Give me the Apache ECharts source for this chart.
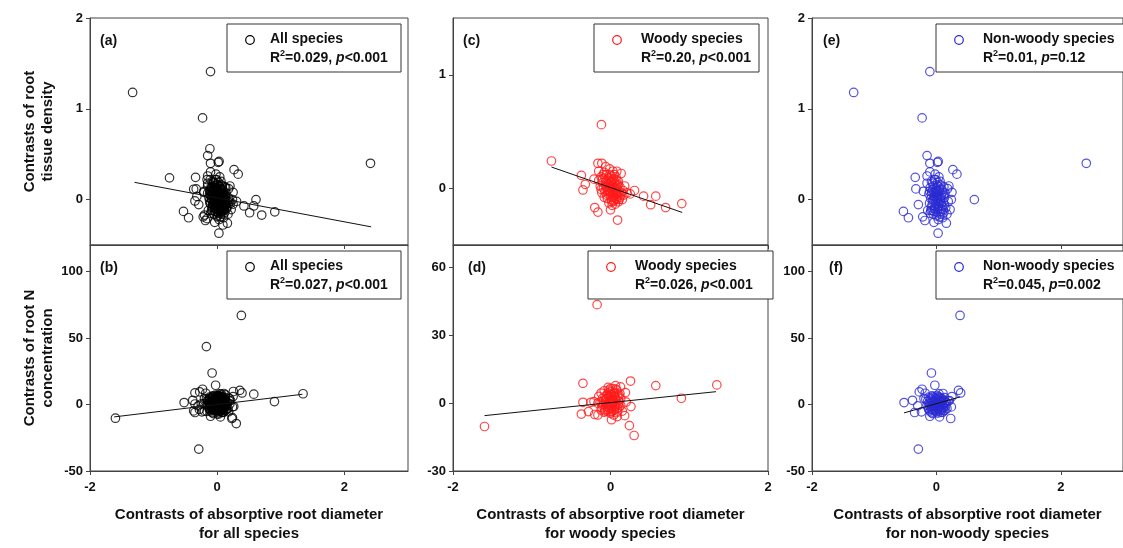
<!DOCTYPE html>
<html>
<head>
<meta charset="utf-8">
<script src="https://cdn.jsdelivr.net/npm/echarts@6.0.0/dist/echarts.min.js"></script>
<style>
html, body { margin: 0; background: #fff; }
#chart { width: 1123px; height: 548px; }
</style>
</head>
<body>
<div id="chart"></div>
<script>
// root tissue density contrasts vs. diameter contrasts
const woodyRtd = [
  [-0.75, 0.24], [-0.115, 0.56], [-0.37, 0.114], [-0.32, 0.035], [-0.35, -0.015],
  [-0.21, 0.08], [-0.16, 0.22], [-0.11, 0.22], [0.135, 0.13], [0.18, 0.02],
  [0.305, -0.02], [0.42, -0.07], [0.575, -0.07], [0.51, -0.145], [0.70, -0.17],
  [0.905, -0.135], [-0.2, -0.17], [-0.16, -0.21], [0.0, -0.19], [0.09, -0.28],
  [0.04, -0.11], [0.21, -0.04], [0.25, -0.05], [-0.15, 0.15],
  [-0.12, 0.10], [-0.08, 0.14], [-0.05, 0.12], [-0.02, 0.09], [0.01, 0.11],
  [0.04, 0.08], [0.07, 0.10], [0.10, 0.06], [-0.10, 0.05], [-0.06, 0.06],
  [-0.03, 0.04], [0.00, 0.05], [0.03, 0.03], [0.06, 0.04], [0.09, 0.02],
  [0.12, 0.01], [-0.13, 0.02], [-0.09, 0.00], [-0.05, 0.01], [-0.01, 0.00],
  [0.02, -0.01], [0.05, 0.00], [0.08, -0.02], [0.11, -0.03], [0.14, -0.04],
  [-0.11, -0.04], [-0.07, -0.03], [-0.03, -0.05], [0.00, -0.04], [0.03, -0.06],
  [0.06, -0.05], [0.09, -0.07], [0.12, -0.08], [-0.08, -0.08], [-0.04, -0.09],
  [0.01, -0.10], [0.04, -0.11], [0.07, -0.09], [0.10, -0.12], [-0.02, -0.13],
  [0.02, -0.15], [0.06, -0.14], [0.15, -0.10], [0.17, -0.06], [-0.15, 0.07],
  [-0.01, 0.17], [0.03, 0.15], [0.08, 0.15], [-0.06, 0.19], [0.05, -0.02],
  [0.00, 0.02], [-0.04, -0.01], [0.02, 0.07],
  [-0.06, 0.02], [-0.02, 0.03], [0.02, 0.02], [0.06, 0.01], [0.09, -0.04],
  [-0.04, -0.03], [0.00, -0.07], [0.04, -0.08], [0.08, -0.10], [-0.07, 0.09],
  [-0.03, 0.07], [0.01, 0.06], [0.05, 0.06], [0.10, 0.03], [0.13, -0.06],
  [-0.10, 0.08], [0.07, -0.06], [0.03, -0.03], [-0.01, -0.02], [0.11, -0.10],
  [-0.12, -0.01], [0.16, -0.02], [-0.09, 0.12], [0.05, 0.12], [0.02, -0.12],
  [-0.05, -0.06], [0.08, 0.07], [-0.01, 0.12]
];
const herbRtd = [
  [-1.33, 1.18], [-0.105, 1.41], [-0.23, 0.90], [-0.15, 0.485], [-0.105, 0.40],
  [0.016, 0.41], [0.03, 0.42], [-0.105, 0.305], [-0.15, 0.26], [-0.34, 0.245],
  [-0.33, 0.118], [-0.21, 0.09], [-0.29, -0.055], [-0.53, -0.13], [-0.45, -0.20],
  [-0.22, -0.19], [-0.185, -0.23], [-0.04, -0.25], [0.027, -0.37], [0.16, -0.26],
  [0.265, 0.33], [0.33, 0.28], [0.61, 0.0], [2.41, 0.40], [0.25, 0.08],
  [0.24, 0.0], [0.22, -0.11], [0.2, 0.15],
  [-0.08, 0.20], [-0.03, 0.22], [0.02, 0.19], [0.07, 0.16], [0.12, 0.14],
  [-0.10, 0.13], [-0.05, 0.15], [0.00, 0.13], [0.05, 0.11], [0.10, 0.08],
  [0.14, 0.07], [-0.12, 0.06], [-0.07, 0.08], [-0.02, 0.07], [0.03, 0.06],
  [0.08, 0.04], [0.13, 0.02], [-0.09, 0.01], [-0.04, 0.03], [0.01, 0.01],
  [0.06, -0.01], [0.11, -0.03], [-0.11, -0.04], [-0.06, -0.02], [-0.01, -0.04],
  [0.04, -0.05], [0.09, -0.07], [0.15, -0.09], [-0.08, -0.09], [-0.03, -0.10],
  [0.02, -0.11], [0.07, -0.13], [0.12, -0.14], [-0.10, -0.15], [-0.05, -0.16],
  [0.00, -0.18], [0.05, -0.19], [0.10, -0.20], [-0.02, 0.28], [0.04, 0.25],
  [0.18, 0.12], [0.19, -0.02], [0.17, -0.16], [-0.14, -0.12], [-0.15, 0.18],
  [0.00, 0.04], [0.03, -0.02], [-0.02, -0.07], [0.01, 0.09], [0.06, 0.03],
  [-0.05, 0.00],
  [-0.06, 0.11], [-0.01, 0.10], [0.04, 0.09], [0.09, 0.11], [-0.08, 0.05],
  [-0.03, 0.04], [0.02, 0.03], [0.07, 0.01], [0.12, 0.05], [-0.07, -0.06],
  [-0.02, -0.01], [0.03, -0.08], [0.08, -0.04], [0.13, -0.06], [-0.09, -0.12],
  [-0.04, -0.13], [0.01, -0.14], [0.06, -0.16], [0.11, -0.11], [-0.06, 0.18],
  [0.01, 0.16], [0.06, 0.20], [-0.11, 0.09], [0.10, -0.16], [-0.01, 0.22],
  [0.04, 0.14], [-0.04, 0.08], [0.07, -0.10], [-0.07, -0.12], [0.03, -0.22]
];
// root N concentration contrasts vs. diameter contrasts
const woodyN = [
  [-0.17, 43.6], [-0.35, 8.8], [-0.35, 0.4], [-0.37, -4.8], [-0.28, -3.7],
  [-0.25, 0.4], [-0.16, 0], [0.254, 9.8], [0.575, 7.8], [0.90, 2.2],
  [1.35, 8.1], [0.26, -1.5], [0.24, -9.9], [0.30, -14.3], [0.013, -7.3],
  [0.085, -5.9], [-0.16, -5.2], [-1.6, -10.3], [0.064, 7.8], [0.127, 7.2],
  [0.19, 4.7], [0.0, 6.5], [-0.2, -5.0], [0.18, -5.5], [0.2, 0.5], [-0.21, 0.7],
  [-0.12, 4.5], [-0.08, 5.5], [-0.04, 3.8], [0.00, 5.0], [0.04, 4.2],
  [0.08, 5.8], [0.11, 3.5], [-0.10, 2.2], [-0.06, 1.5], [-0.02, 2.8],
  [0.02, 1.8], [0.06, 2.5], [0.10, 1.2], [0.13, 2.0], [-0.13, 0.5],
  [-0.09, -0.5], [-0.05, 0.3], [-0.01, -0.8], [0.03, 0.4], [0.07, -0.3],
  [0.11, 0.6], [-0.11, -2.0], [-0.07, -2.8], [-0.03, -1.8], [0.01, -2.5],
  [0.05, -1.5], [0.09, -2.2], [0.13, -1.0], [-0.08, -4.0], [-0.04, -3.5],
  [0.00, -4.5], [0.04, -3.2], [0.08, -4.2], [-0.01, 1.0], [0.02, -0.2],
  [-0.06, -1.2], [0.05, 3.2], [0.15, -3.5], [-0.15, 3.0], [0.03, 6.5],
  [-0.03, 7.0],
  [-0.07, 3.0], [-0.03, 4.5], [0.01, 3.0], [0.05, 4.8], [0.09, 3.0],
  [-0.09, 1.0], [-0.05, 2.0], [-0.01, 2.2], [0.03, 1.2], [0.07, 1.5],
  [0.11, -1.8], [-0.10, -1.2], [-0.06, 0.2], [-0.02, -0.3], [0.02, 0.8],
  [0.06, -1.0], [0.10, -0.5], [-0.07, -3.5], [-0.03, -2.8], [0.01, -3.8],
  [0.05, -2.8], [0.09, -3.5], [0.12, 4.2], [-0.12, -3.0], [0.04, -5.2],
  [-0.02, 5.8], [0.07, 6.2], [0.00, 3.8]
];
const herbN = [
  [0.38, 67], [-0.08, 23.7], [-0.025, 14.5], [-0.29, -33.5], [-0.52, 1.5],
  [-0.385, 3.2], [-0.35, -6], [-0.24, -5.5], [-0.275, 9.5], [-0.23, 11.5],
  [0.355, 10.7], [0.39, 8.7], [0.23, -10.5], [0.05, -9.3], [-0.105, -8.8],
  [0.24, -1.8], [0.21, 3], [0.106, 8.3], [-0.2, 4.5], [-0.3, -1],
  [0.25, 6], [-0.18, 8.5],
  [-0.12, 5.5], [-0.07, 6.5], [-0.02, 5.0], [0.03, 6.0], [0.08, 4.5],
  [0.13, 5.2], [-0.14, 2.5], [-0.09, 3.2], [-0.04, 2.0], [0.01, 3.5],
  [0.06, 2.2], [0.11, 3.0], [0.16, 1.5], [-0.15, -0.5], [-0.10, 0.5],
  [-0.05, -0.2], [0.00, 0.8], [0.05, -0.5], [0.10, 0.3], [0.15, -1.0],
  [-0.13, -2.8], [-0.08, -2.0], [-0.03, -3.2], [0.02, -2.5], [0.07, -3.5],
  [0.12, -2.2], [0.17, -3.0], [-0.10, -5.0], [-0.05, -4.5], [0.00, -5.5],
  [0.05, -4.8], [0.10, -5.8], [0.14, -4.2], [-0.02, 1.2], [0.03, -1.0],
  [0.08, 1.8], [-0.07, -1.2], [0.19, 2.8], [-0.17, 4.0], [0.04, 8.0],
  [-0.06, -6.8],
  [-0.10, 4.2], [-0.05, 5.8], [0.00, 4.5], [0.05, 5.2], [0.10, 4.0],
  [-0.12, 1.0], [-0.07, 1.8], [-0.02, 3.0], [0.03, 2.2], [0.08, 3.0],
  [0.13, 0.5], [-0.10, -1.5], [-0.05, -1.0], [0.00, -1.8], [0.05, -1.5],
  [0.10, -2.5], [0.14, 1.8], [-0.12, -4.0], [-0.07, -3.8], [-0.02, -4.5],
  [0.03, -3.8], [0.08, -4.5], [0.12, -4.8], [-0.08, -6.0], [0.02, -6.5],
  [0.07, -6.0], [0.01, 6.8], [-0.03, 0.2], [0.06, 0.8], [0.09, -0.8]
];
const allRtd = woodyRtd.concat(herbRtd);
const allN = woodyN.concat(herbN);

// fitted regression lines (end points)
const fitAllRtd = [[-1.30, 0.19], [2.42, -0.30]];
const fitWoodyRtd = [[-0.75, 0.187], [0.91, -0.213]];
const fitAllN = [[-1.62, -9.3], [1.34, 7.7]];
const fitWoodyN = [[-1.6, -5.5], [1.34, 5.1]];
const fitHerbN = [[-0.52, -6.3], [0.38, 5.7]];

const panelLabels = ['(a)', '(b)', '(c)', '(d)', '(e)', '(f)'];
const groupNames = ['All species', 'Woody species', 'Non-woody species'];
const r2Values = ['0.029', '0.027', '0.20', '0.026', '0.01', '0.045'];
const pValues = ['<0.001', '<0.001', '<0.001', '<0.001', '=0.12', '=0.002'];
const xTicks = [-2, 0, 2];
const yTicksRtdAll = [0, 1, 2];
const yTicksRtdWoody = [0, 1];
const yTicksNAll = [-50, 0, 50, 100];
const yTicksNWoody = [-30, 0, 30, 60];
const xTitles = [
  'Contrasts of absorptive root diameter\nfor all species',
  'Contrasts of absorptive root diameter\nfor woody species',
  'Contrasts of absorptive root diameter\nfor non-woody species'
];
const yTitles = ['Contrasts of root\ntissue density', 'Contrasts of root N\nconcentration'];

const FONT = 'Liberation Sans, Arial, sans-serif';
const BLACK = '#000000', RED = '#ff1a1a', BLUE = '#2a2ad2';

// panels in letter order (column by column)
const panels = [
  { col: 0, row: 0, data: allRtd, fit: fitAllRtd, color: BLACK, x: [-2, 3], y: [-0.5, 2], yTicks: yTicksRtdAll },
  { col: 0, row: 1, data: allN, fit: fitAllN, color: BLACK, x: [-2, 3], y: [-50, 120], yTicks: yTicksNAll },
  { col: 1, row: 0, data: woodyRtd, fit: fitWoodyRtd, color: RED, x: [-2, 2], y: [-0.5, 1.5], yTicks: yTicksRtdWoody },
  { col: 1, row: 1, data: woodyN, fit: fitWoodyN, color: RED, x: [-2, 2], y: [-30, 70], yTicks: yTicksNWoody },
  { col: 2, row: 0, data: herbRtd, fit: null, color: BLUE, x: [-2, 3], y: [-0.5, 2], yTicks: yTicksRtdAll },
  { col: 2, row: 1, data: herbN, fit: fitHerbN, color: BLUE, x: [-2, 3], y: [-50, 120], yTicks: yTicksNAll }
];

// layout
const colLeft = [90, 453, 812];
const colWidth = [318, 315, 318];
const rowTop = [18, 245];
const rowHeight = [227, 226];
const boxLeft = [227, 227, 594, 588, 936, 936];
const boxWidth = [174, 174, 165, 185, 190, 190];
const boxTop = [24, 251];
const textOffset = [43, 43, 47, 47, 47, 47];
const labelOffset = [10, 10, 10, 15, 11, 17];

const chart = echarts.init(document.getElementById('chart'));

const grids = [], xAxes = [], yAxes = [], series = [], graphics = [];
const axisLine = { show: true, onZero: false, lineStyle: { color: '#444', width: 1 } };
const labelStyle = { color: '#111', fontFamily: FONT, fontWeight: 'bold', fontSize: 13 };

panels.forEach((p, i) => {
  grids.push({
    left: colLeft[p.col], top: rowTop[p.row],
    width: colWidth[p.col], height: rowHeight[p.row],
    show: true, borderColor: '#444', borderWidth: 1, backgroundColor: 'transparent'
  });
  xAxes.push({
    type: 'value', gridIndex: i, min: p.x[0], max: p.x[1],
    axisLine: axisLine, splitLine: { show: false },
    axisTick: { show: true, inside: false, length: 4, customValues: xTicks, lineStyle: { color: '#444' } },
    axisLabel: Object.assign({ show: p.row === 1, margin: 10, customValues: xTicks }, labelStyle),
    name: p.row === 1 ? xTitles[p.col] : '',
    nameLocation: 'middle', nameGap: 34,
    nameTextStyle: { color: '#111', fontFamily: FONT, fontWeight: 'bold', fontSize: 15, lineHeight: 19 }
  });
  yAxes.push({
    type: 'value', gridIndex: i, min: p.y[0], max: p.y[1],
    axisLine: axisLine, splitLine: { show: false },
    axisTick: { show: true, inside: false, length: 4, customValues: p.yTicks, lineStyle: { color: '#444' } },
    axisLabel: Object.assign({ margin: 7, customValues: p.yTicks }, labelStyle),
    name: p.col === 0 ? yTitles[p.row] : '',
    nameLocation: 'middle', nameGap: 33,
    nameTextStyle: { color: '#111', fontFamily: FONT, fontWeight: 'bold', fontSize: 15, lineHeight: 18 }
  });
  series.push({
    type: 'scatter', xAxisIndex: i, yAxisIndex: i, data: p.data,
    symbol: 'circle', symbolSize: 8.5, silent: true,
    itemStyle: { color: 'transparent', borderColor: p.color, borderWidth: 1.2 }
  });
  if (p.fit) {
    series.push({
      type: 'line', xAxisIndex: i, yAxisIndex: i, data: p.fit,
      symbol: 'none', silent: true, z: 3,
      lineStyle: { color: '#111', width: 1 }
    });
  }

  // panel letter
  graphics.push({
    type: 'text', z: 10,
    style: {
      x: colLeft[p.col] + labelOffset[i], y: rowTop[p.row] + 23,
      text: panelLabels[i], verticalAlign: 'middle',
      fill: '#111', font: 'bold 14px ' + FONT
    }
  });
  // legend box
  const bx = boxLeft[i], by = boxTop[p.row];
  graphics.push({
    type: 'rect', z: 10,
    shape: { x: bx, y: by, width: boxWidth[i], height: 48 },
    style: { fill: '#fff', stroke: '#333', lineWidth: 1 }
  });
  graphics.push({
    type: 'circle', z: 11,
    shape: { cx: bx + 23, cy: by + 16, r: 4.3 },
    style: { fill: 'none', stroke: p.color, lineWidth: 1.2 }
  });
  graphics.push({
    type: 'text', z: 11,
    style: {
      x: bx + textOffset[i], y: by + 6,
      text: '{b|' + groupNames[p.col] + '}\n{b|R}{sup|2}{b|=' + r2Values[i] + ', }{it|p}{b|' + pValues[i] + '}',
      verticalAlign: 'top',
      rich: {
        b: { fontFamily: FONT, fontWeight: 'bold', fontSize: 14, lineHeight: 19, fill: '#111', color: '#111' },
        it: { fontFamily: FONT, fontWeight: 'bold', fontStyle: 'italic', fontSize: 14, lineHeight: 19, fill: '#111', color: '#111' },
        sup: { fontFamily: FONT, fontWeight: 'bold', fontSize: 9, lineHeight: 11, verticalAlign: 'top', fill: '#111', color: '#111' }
      }
    }
  });
});

chart.setOption({
  backgroundColor: '#fff',
  animation: false,
  grid: grids,
  xAxis: xAxes,
  yAxis: yAxes,
  series: series,
  graphic: graphics
});
</script>
</body>
</html>
